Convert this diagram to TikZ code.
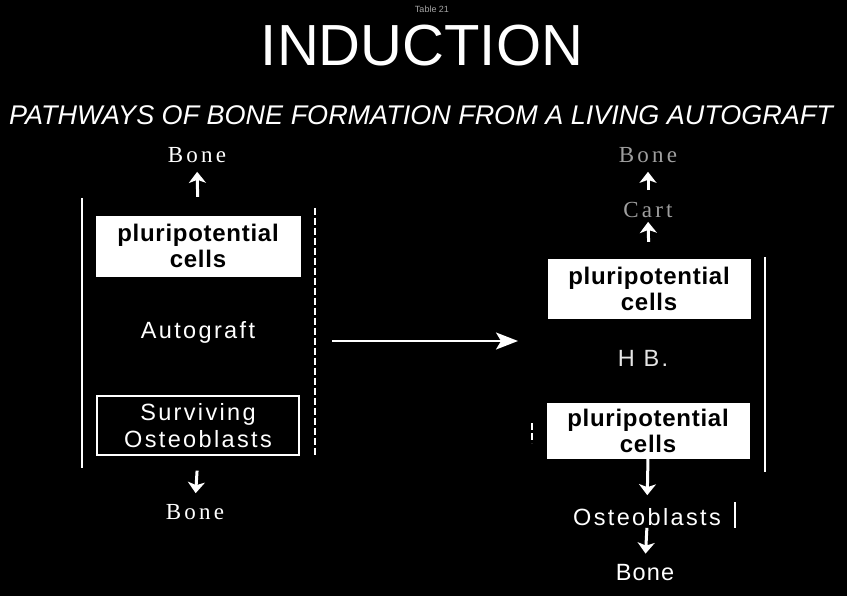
\documentclass[tikz,border=0pt]{standalone}
\usepackage{fontspec}
\setmainfont{Liberation Sans}
\newfontfamily\serifbone[LetterSpace=14]{Liberation Serif}
\usetikzlibrary{arrows.meta}
\begin{document}
\begin{tikzpicture}[x=1pt,y=-1pt,
  txt/.style={text=white, inner sep=0pt, anchor=center},
  lbl/.style={txt, font=\addfontfeature{LetterSpace=10}\fontsize{23.5}{27}\selectfont, align=center},
  serifl/.style={txt, font=\serifbone\fontsize{23}{23}\selectfont},
  pbox/.style={fill=white, draw=white, text=black, inner sep=0pt, align=center,
    font=\bfseries\addfontfeature{LetterSpace=3}\fontsize{24}{26}\selectfont},
  obox/.style={draw=white, line width=1.3pt, text=white, inner sep=0pt, align=center,
    font=\addfontfeature{LetterSpace=10}\fontsize{23.5}{27}\selectfont},
  varr/.style={draw=white, line width=3pt, -{Stealth[length=11pt,width=17pt,inset=3pt]}},
  harr/.style={draw=white, line width=2pt, -{Stealth[length=22pt,width=17pt,inset=5pt]}},
  frame/.style={draw=white, line width=1.3pt},
  dframe/.style={draw=white, line width=1.3pt, dash pattern=on 7pt off 3pt},
]
\fill[black] (0,0) rectangle (847,596);
\useasboundingbox (0,0) rectangle (847,596);

% titles
\node[txt, text=gray!70, font=\fontsize{9}{9}\selectfont] (tab) at (432,9) {Table 21};
\node[txt, font=\fontsize{58}{58}\selectfont] (title) at (422,46) {INDUCTION};
\node[txt, font=\itshape\fontsize{27}{27}\selectfont] (sub) at (421,115)
  {PATHWAYS OF BONE FORMATION FROM A LIVING AUTOGRAFT};

% left column
\node[serifl] (lbone1) at (197,155) {Bone};
\node[pbox, minimum width=204pt, minimum height=60pt] (lp) at (198,246) {pluripotential\\cells};
\node[lbl] (auto) at (198,332) {Autograft};
\node[obox, minimum width=202pt, minimum height=59pt] (ls) at (198,425.5) {Surviving\\Osteoblasts};
\node[serifl] (lbone2) at (195,512) {Bone};
\draw[varr, shorten <=19pt, shorten >=9pt] (lp.north) -- (lbone1.south);
\draw[varr, shorten <=15pt, shorten >=11pt] (ls.south) -- (lbone2.north);
\coordinate (lfa) at (82,198);
\coordinate (lfb) at (82,468);
\coordinate (lfc) at (315,208);
\coordinate (lfd) at (315,458);
\draw[frame] (lfa) -- (lfb);
\draw[dframe] (lfc) -- (lfd);

% middle arrow
\coordinate (mA) at (332,341);
\coordinate (mB) at (518,341);
\draw[harr] (mA) -- (mB);

% right column
\node[serifl, text=gray!75] (rbone1) at (648,155) {Bone};
\node[serifl, text=gray!75] (cart) at (648,210) {Cart};
\node[pbox, minimum width=202pt, minimum height=59pt] (rp1) at (649,288.5) {pluripotential\\cells};
\node[lbl, text=white!90!black] (hb) at (643,358) {H B.};
\node[pbox, minimum width=202pt, minimum height=55pt] (rp2) at (648,430.5) {pluripotential\\cells};
\node[lbl] (oste) at (647,517) {Osteoblasts};
\node[lbl, font=\addfontfeature{LetterSpace=5}\fontsize{23.5}{27}\selectfont] (rbone2) at (645,573) {Bone};
\draw[varr, shorten <=12pt, shorten >=9pt] (cart.north) -- (rbone1.south);
\draw[varr, shorten <=17pt, shorten >=4pt] (rp1.north) -- (cart.south);
\draw[varr, shorten >=13pt] (rp2.south) -- (oste.north);
\draw[varr, shorten <=2pt, shorten >=11pt] (oste.south) -- (rbone2.north);
\coordinate (rfa) at (765,257);
\coordinate (rfb) at (765,472);
\coordinate (rfc) at (532,423);
\coordinate (rfd) at (532,443);
\coordinate (rfe) at (735,502);
\coordinate (rff) at (735,528);
\draw[frame] (rfa) -- (rfb);
\draw[dframe] (rfc) -- (rfd);
\draw[frame] (rfe) -- (rff);
\end{tikzpicture}
\end{document}
